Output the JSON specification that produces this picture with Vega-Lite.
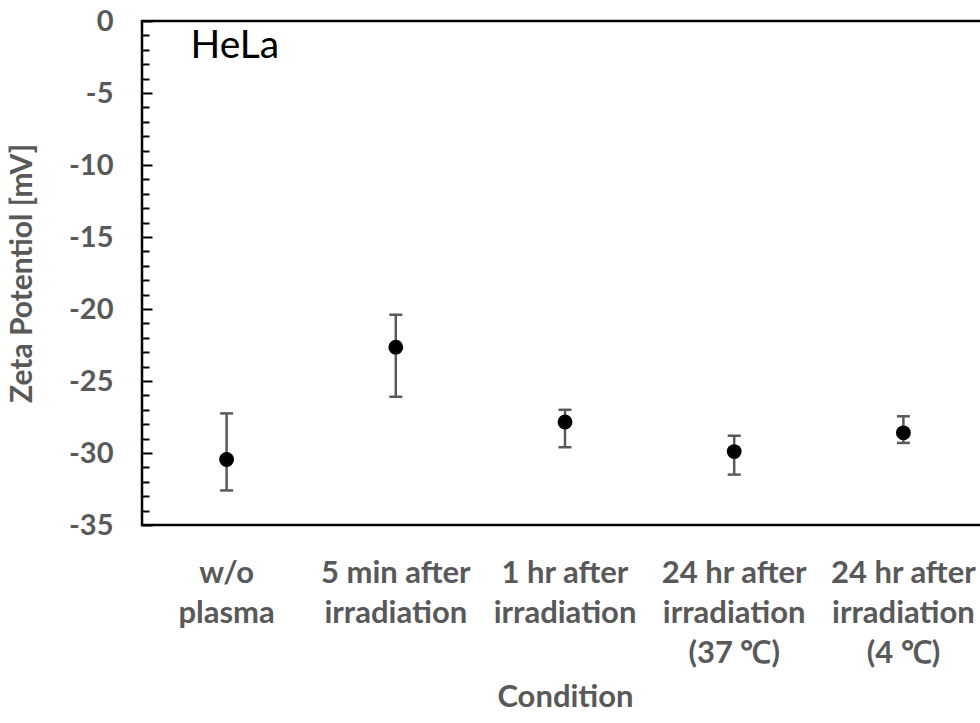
{
  "$schema": "https://vega.github.io/schema/vega-lite/v6.json",
  "autosize": "none",
  "padding": {"left": 142, "top": 21, "right": 0, "bottom": 198},
  "width": 846,
  "height": 504,
  "background": "white",
  "config": {
    "view": {"stroke": "#000000", "strokeWidth": 2.5},
    "font": "Lato",
    "axis": {"labelOverlap": false, "labelBound": false, "labelFlush": false}
  },
  "data": {
    "values": [
      {"condition": "w/o|plasma", "mean": -30.45, "lo": -32.6, "hi": -27.25},
      {"condition": "5 min after|irradiation", "mean": -22.65, "lo": -26.1, "hi": -20.4},
      {"condition": "1 hr after|irradiation", "mean": -27.85, "lo": -29.6, "hi": -27.0},
      {"condition": "24 hr after|irradiation|(37 ℃)", "mean": -29.9, "lo": -31.5, "hi": -28.8},
      {"condition": "24 hr after|irradiation|(4 ℃)", "mean": -28.6, "lo": -29.3, "hi": -27.45}
    ]
  },
  "encoding": {
    "x": {
      "field": "condition",
      "type": "nominal",
      "sort": null,
      "scale": {"paddingInner": 0, "paddingOuter": 0},
      "axis": {
        "title": "Condition",
        "labelExpr": "split(datum.label, '|')",
        "labelAngle": 0,
        "labelFont": "Lato",
        "labelFontSize": 31,
        "labelFontWeight": "bold",
        "labelColor": "#595959",
        "labelLineHeight": 40,
        "labelBaseline": "top",
        "labelPadding": 33,
        "labelLimit": 400,
        "ticks": false,
        "domain": false,
        "grid": false,
        "titleFont": "Lato",
        "titleFontSize": 31,
        "titleFontWeight": "bold",
        "titleColor": "#595959",
        "titlePadding": 14
      }
    }
  },
  "layer": [
    {
      "mark": {"type": "rule", "color": "#595959", "strokeWidth": 2.5},
      "encoding": {
        "y": {
          "field": "lo",
          "type": "quantitative",
          "scale": {"domain": [-35, 0], "nice": false, "zero": false},
          "axis": {
            "title": "Zeta Potentiol [mV]",
            "values": [-35,-34,-33,-32,-31,-30,-29,-28,-27,-26,-25,-24,-23,-22,-21,-20,-19,-18,-17,-16,-15,-14,-13,-12,-11,-10,-9,-8,-7,-6,-5,-4,-3,-2,-1,0],
            "tickCount": 50,
            "labelExpr": "datum.value % 5 === 0 ? '' + datum.value : ''",
            "labelOverlap": false,
            "labelFont": "Lato",
            "labelFontSize": 29,
            "labelFontWeight": "bold",
            "labelColor": "#595959",
            "labelPadding": 39,
            "tickSize": {"condition": {"test": "datum.value % 5 === 0", "value": -10}, "value": -7},
            "tickWidth": 2,
            "tickColor": "#000000",
            "domain": false,
            "grid": false,
            "titleFont": "Lato",
            "titleFontSize": 30,
            "titleFontWeight": "bold",
            "titleColor": "#595959",
            "titleAngle": -90,
            "titleX": -120,
            "titleY": 252,
            "titleAlign": "center",
            "titleBaseline": "middle"
          }
        },
        "y2": {"field": "hi"}
      }
    },
    {
      "mark": {"type": "tick", "color": "#595959", "thickness": 2.5, "size": 13, "opacity": 1},
      "encoding": {"y": {"field": "lo", "type": "quantitative"}}
    },
    {
      "mark": {"type": "tick", "color": "#595959", "thickness": 2.5, "size": 13, "opacity": 1},
      "encoding": {"y": {"field": "hi", "type": "quantitative"}}
    },
    {
      "mark": {"type": "point", "filled": true, "color": "#000000", "size": 220, "opacity": 1},
      "encoding": {"y": {"field": "mean", "type": "quantitative"}}
    },
    {
      "data": {"values": [{"label": "HeLa", "cond": "w/o|plasma", "yv": -1.75}]},
      "mark": {"type": "text", "align": "left", "baseline": "middle", "dx": -36, "font": "Lato", "fontSize": 39, "color": "#000000"},
      "encoding": {
        "x": {"field": "cond", "type": "nominal"},
        "y": {"field": "yv", "type": "quantitative"},
        "text": {"field": "label"}
      }
    }
  ]
}
